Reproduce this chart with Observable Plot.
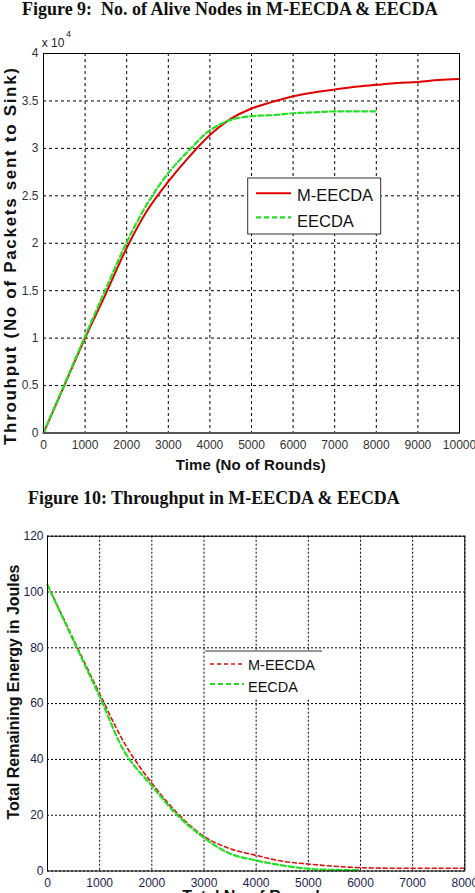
<!DOCTYPE html>
<html>
<head>
<meta charset="utf-8">
<script src="https://cdn.jsdelivr.net/npm/d3@7"></script>
<script src="https://cdn.jsdelivr.net/npm/@observablehq/plot@0.6"></script>
<style>
  body { margin: 0; background: #fff; }
  #page { position: relative; width: 475px; height: 893px; overflow: hidden; background: #fff; }
  .cap { position: absolute; font-family: "Liberation Serif", "Times New Roman", serif; font-weight: bold;
         font-size: 16px; line-height: 16px; white-space: pre; color: #111; }
  #chart1 { position: absolute; left: 0; top: 20px; }
  #chart2 { position: absolute; left: 0; top: 510px; }
</style>
</head>
<body>
<div id="page">
  <div class="cap" id="cap1" style="left:22px; top:1px;">Figure 9:  No. of Alive Nodes in M-EECDA &amp; EECDA</div>
  <div class="cap" id="cap2" style="left:28px; top:490px;">Figure 10: Throughput in M-EECDA &amp; EECDA</div>
  <div id="chart1"></div>
  <div id="chart2"></div>
</div>
<script>
// ---- Throughput (packets sent to sink, in units of 10^4) ----
const rounds1 = [0, 500, 1000, 1500, 2000, 2500, 3000, 3500, 4000, 4500, 5000,
                 5500, 6000, 6500, 7000, 7500, 8000, 8500, 9000, 9500, 10000];
const throughputMEECDA = [0, 0.5, 1.0, 1.47, 1.95, 2.35, 2.65, 2.91, 3.14, 3.31, 3.42,
                          3.49, 3.55, 3.59, 3.62, 3.65, 3.67, 3.69, 3.70, 3.72, 3.73];
const throughputEECDA = [0, 0.51, 1.02, 1.52, 2.01, 2.42, 2.74, 2.98, 3.19, 3.30, 3.34,
                         3.35, 3.37, 3.38, 3.39, 3.39, 3.39];
const xTicks1 = [0, 1000, 2000, 3000, 4000, 5000, 6000, 7000, 8000, 9000, 10000];
const yTicks1 = [0, 0.5, 1, 1.5, 2, 2.5, 3, 3.5, 4];

// ---- Total remaining energy (Joules) ----
const rounds2 = [0, 500, 1000, 1500, 2000, 2500, 3000, 3500, 4000, 4500,
                 5000, 5500, 6000, 6500, 7000, 7500, 8000];
const energyMEECDA = [102.5, 83, 63.5, 45, 31.5, 20.5, 12.4, 8, 5.6, 3.5,
                      2.5, 1.7, 1.2, 1.0, 1.0, 1.0, 1.0];
const energyEECDA = [102.5, 82.5, 62.5, 42, 30.5, 19.8, 11.9, 6.2, 3.8, 2.0,
                     0.8, 0.4, 0.3];
const xTicks2 = [0, 1000, 2000, 3000, 4000, 5000, 6000, 7000, 8000];
const yTicks2 = [0, 20, 40, 60, 80, 100, 120];

const seriesNames = ["M-EECDA", "EECDA"];
const RED = "#e00000", GREEN = "#22e022";
const SANS = "'Liberation Sans', Arial, Helvetica, sans-serif";

const toRows = (xs, ys) => ys.map((v, i) => ({round: xs[i], value: v}));

// fit a caption to a given pixel width
function fitWidth(el, target) {
  const w = el.getBoundingClientRect().width;
  const fs = parseFloat(getComputedStyle(el).fontSize);
  el.style.fontSize = (fs * target / w) + "px";
}
fitWidth(document.getElementById("cap1"), 416);
fitWidth(document.getElementById("cap2"), 372);

const gridStyle = {stroke: "#000", strokeOpacity: 1, strokeWidth: 1, strokeDasharray: "3,3"};

// ---------------- Chart 1 ----------------
const p1 = Plot.plot({
  width: 475, height: 460,
  marginTop: 33, marginBottom: 47.5, marginLeft: 43, marginRight: 16,
  style: {fontFamily: SANS, fontSize: "12px", background: "white", color: "#333", overflow: "visible"},
  x: {domain: [0, 10000]},
  y: {domain: [0, 4]},
  marks: [
    Plot.gridX(xTicks1, gridStyle),
    Plot.gridY(yTicks1, gridStyle),
    Plot.line(toRows(rounds1, throughputMEECDA), {x: "round", y: "value", stroke: RED, strokeWidth: 2, curve: "catmull-rom"}),
    Plot.line(toRows(rounds1, throughputEECDA), {x: "round", y: "value", stroke: GREEN, strokeWidth: 2.2,
      strokeDasharray: "5,3", curve: "catmull-rom"}),
    Plot.frame({stroke: "#000", strokeWidth: 1}),
    Plot.ruleY([0], {stroke: "#555", strokeWidth: 1.8}),
    Plot.axisX(xTicks1, {tickSize: 0, tickPadding: 7, tickFormat: d => String(d), label: null, fill: "#333"}),
    Plot.axisY(yTicks1, {tickSize: 0, tickPadding: 5, tickFormat: d => String(d), label: null, fill: "#333"})
  ]
});
document.getElementById("chart1").appendChild(p1);
{
  const s = d3.select(p1);
  // exponent multiplier
  s.append("text").attr("x", 41.7).attr("y", 27.3).attr("text-anchor", "start")
    .attr("font-size", 12).attr("fill", "#222").text("x 10");
  s.append("text").attr("x", 66).attr("y", 17).attr("text-anchor", "start")
    .attr("font-size", 9).attr("fill", "#222").text("4");
  // axis titles
  s.append("text").attr("transform", "translate(16,236.5) rotate(-90)").attr("text-anchor", "middle")
    .attr("font-size", 17).attr("font-weight", "bold").attr("fill", "#111")
    .attr("textLength", 377).attr("lengthAdjust", "spacing")
    .text("Throuhput (No of Packets sent to Sink)");
  s.append("text").attr("x", 250.7).attr("y", 450).attr("text-anchor", "middle")
    .attr("font-size", 15).attr("font-weight", "bold").attr("fill", "#111")
    .attr("textLength", 150).attr("lengthAdjust", "spacing")
    .text("Time (No of Rounds)");
  // legend
  const g = s.append("g").attr("text-anchor", "start");
  g.append("rect").attr("x", 247.7).attr("y", 158).attr("width", 133).attr("height", 56)
    .attr("fill", "white").attr("stroke", "#333").attr("stroke-width", 1);
  const styles1 = [{c: RED, w: 2, d: null}, {c: GREEN, w: 2.2, d: "5,3"}];
  seriesNames.forEach((name, i) => {
    const y = 173.3 + i * 24;
    g.append("line").attr("x1", 256).attr("x2", 291).attr("y1", y).attr("y2", y)
      .attr("stroke", styles1[i].c).attr("stroke-width", styles1[i].w).attr("stroke-dasharray", styles1[i].d);
    g.append("text").attr("x", 297).attr("y", 180.5 + i * 26).attr("text-anchor", "start")
      .attr("font-size", 16.5).attr("fill", "#111").text(name);
  });
}

// ---------------- Chart 2 ----------------
const p2 = Plot.plot({
  width: 475, height: 383,
  marginTop: 25.7, marginBottom: 22.5, marginLeft: 47, marginRight: 10.7,
  style: {fontFamily: SANS, fontSize: "12px", background: "white", color: "#1c1c50", overflow: "visible"},
  x: {domain: [0, 8000]},
  y: {domain: [0, 120]},
  marks: [
    Plot.gridX(xTicks2, {...gridStyle, strokeDasharray: "2,2"}),
    Plot.gridY(yTicks2, {...gridStyle, strokeDasharray: "2,2"}),
    Plot.line(toRows(rounds2, energyMEECDA), {x: "round", y: "value", stroke: "#dd1111", strokeWidth: 1.6,
      strokeDasharray: "4,3", curve: "catmull-rom"}),
    Plot.line(toRows(rounds2, energyEECDA), {x: "round", y: "value", stroke: GREEN, strokeWidth: 2.2,
      strokeDasharray: "5,3", curve: "catmull-rom"}),
    Plot.frame({stroke: "#000", strokeWidth: 1}),
    Plot.axisX(xTicks2, {tickSize: 0, tickPadding: 7, tickFormat: d => String(d), label: null, fill: "#1c1c50"}),
    Plot.axisY(yTicks2, {tickSize: 0, tickPadding: 4, tickFormat: d => String(d), label: null, fill: "#1c1c50"})
  ]
});
document.getElementById("chart2").appendChild(p2);
{
  const s = d3.select(p2);
  s.append("text").attr("transform", "translate(19,182) rotate(-90)").attr("text-anchor", "middle")
    .attr("font-size", 16).attr("font-weight", "bold").attr("fill", "#111")
    .attr("textLength", 255).attr("lengthAdjust", "spacing")
    .text("Total Remaining Energy in Joules");
  s.append("text").attr("x", 255.5).attr("y", 392).attr("text-anchor", "middle")
    .attr("font-size", 16).attr("font-weight", "bold").attr("fill", "#111")
    .text("Total No of Rounds");
  // legend
  const g = s.append("g").attr("text-anchor", "start");
  g.append("rect").attr("x", 205).attr("y", 141).attr("width", 117).attr("height", 47).attr("fill", "white");
  g.append("line").attr("x1", 205).attr("x2", 322).attr("y1", 141).attr("y2", 141).attr("stroke", "#333");
  const styles2 = [{c: "#dd1111", w: 1.4, d: "4,3"}, {c: GREEN, w: 2.2, d: "5,3"}];
  seriesNames.forEach((name, i) => {
    const y = 154 + i * 20;
    g.append("line").attr("x1", 210).attr("x2", 244).attr("y1", y).attr("y2", y)
      .attr("stroke", styles2[i].c).attr("stroke-width", styles2[i].w).attr("stroke-dasharray", styles2[i].d);
    g.append("text").attr("x", 248).attr("y", 160 + i * 21.7).attr("text-anchor", "start")
      .attr("font-size", 14.5).attr("fill", "#111").text(name);
  });
}
</script>
</body>
</html>
